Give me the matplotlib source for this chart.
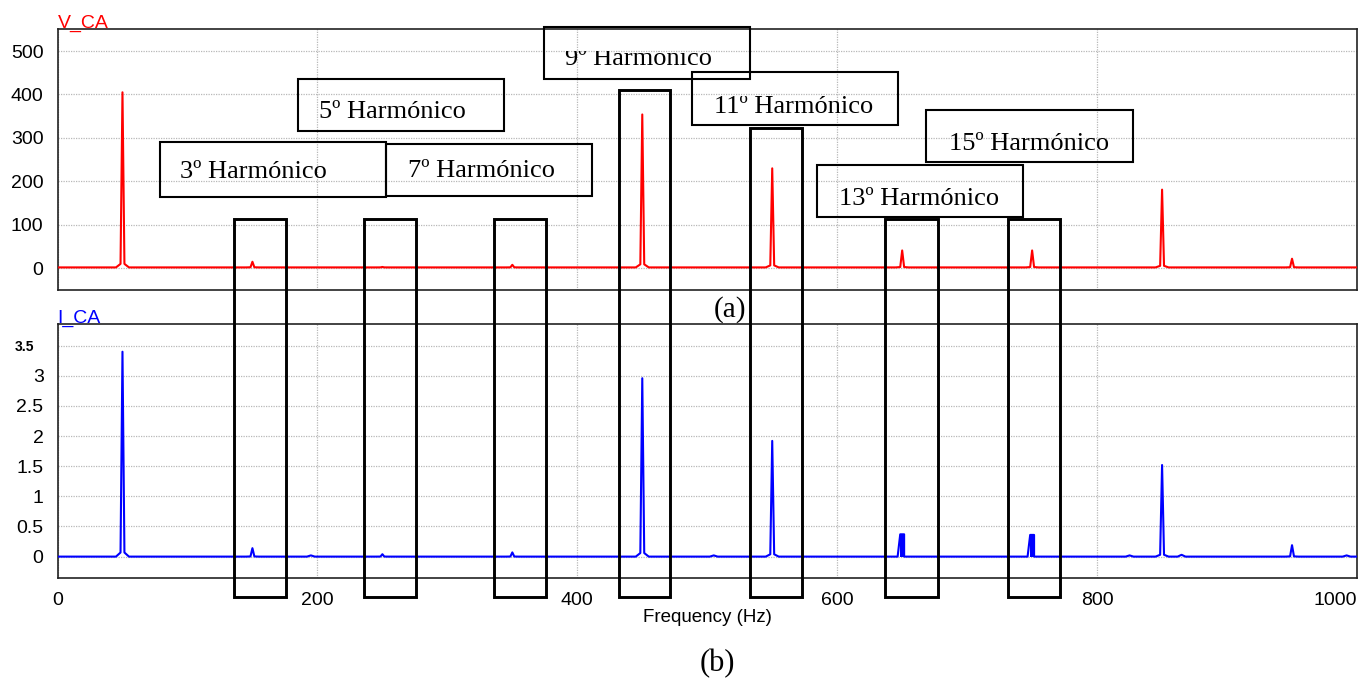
import matplotlib
matplotlib.use("Agg")
import matplotlib.pyplot as plt
from matplotlib.patches import Rectangle

# ---------------- data ----------------
harm_freq = [50, 150, 250, 350, 450, 550, 650, 750, 850, 950]          # Hz
v_amp     = [405, 15, 3, 8, 354, 230, 41, 41, 181, 22]                 # V_CA peaks
i_amp     = [3.40, 0.14, 0.04, 0.07, 2.96, 1.92, 0.37, 0.36, 1.52, 0.19]  # I_CA peaks
v_base = 2.0
i_base = 0.0
i_small_freq = [195, 505, 825, 865, 992]
i_small_amp  = [0.02, 0.02, 0.02, 0.03, 0.02]
block_harm = [650, 750]          # I_CA peaks that look like filled blocks

x_ticks = [0, 200, 400, 600, 800, 1000]
v_ticks = [0, 100, 200, 300, 400, 500]
i_ticks = [0, 0.5, 1, 1.5, 2, 2.5, 3, 3.5]
i_tick_labels = ["0", "0.5", "1", "1.5", "2", "2.5", "3", "3.5"]

harm_labels = ["3º Harmónico", "5º Harmónico", "7º Harmónico", "9º Harmónico",
               "11º Harmónico", "13º Harmónico", "15º Harmónico"]

# ---------------- helpers ----------------
def spectrum(freqs, amps, base, skirt, extra_f=(), extra_a=(), blocks=()):
    pts = [(0.0, base), (1000.0, base)]
    for f, a in zip(freqs, amps):
        if f in blocks:
            continue
        pts += [(f - 5, base), (f - 1.5, base + skirt * a), (f, a),
                (f + 1.5, base + skirt * a), (f + 5, base)]
    for f, a in zip(extra_f, extra_a):
        pts += [(f - 3, base), (f, base + a), (f + 3, base)]
    for f, a in zip(freqs, amps):
        if f in blocks:
            pts += [(f - 3.5, base), (f - 1.5, a), (f + 1.5, a), (f + 1.51, base), (f + 3.5, base)]
    pts.sort(key=lambda p: p[0])
    return [p[0] for p in pts], [p[1] for p in pts]

W, H = 1360, 678
fig = plt.figure(figsize=(W / 100, H / 100), dpi=100)
fig.patch.set_facecolor("white")

def axrect(x0, y0, x1, y1):
    return [x0 / W, 1 - y1 / H, (x1 - x0) / W, (y1 - y0) / H]

sans = "Liberation Sans"
serif = "Liberation Serif"
grid_kw = dict(color="#b8b8b8", linestyle=(0, (1, 1)), linewidth=0.9)

ax1 = fig.add_axes(axrect(57.5, 29.3, 1357, 290))
ax2 = fig.add_axes(axrect(57.5, 324, 1357, 577.7))

# top panel: V_CA
vx, vy = spectrum(harm_freq, v_amp, v_base, 0.02)
ax1.plot(vx, vy, color="#ff0000", lw=1.5, zorder=3)
ax1.set_xlim(0, 1000)
ax1.set_ylim(-50, 550)
ax1.set_xticks(x_ticks)
ax1.set_xticklabels([])
ax1.set_yticks(v_ticks)
ax1.set_yticklabels([str(t) for t in v_ticks], fontfamily=sans, fontsize=14)
ax1.text(0, 1.004, "V_CA", transform=ax1.transAxes, color="#ff0000",
         fontfamily=sans, fontsize=14, ha="left", va="baseline")

# bottom panel: I_CA
ix, iy = spectrum(harm_freq, i_amp, i_base, 0.02, i_small_freq, i_small_amp, block_harm)
ax2.plot(ix, iy, color="#0000ff", lw=1.5, zorder=3)
for f, a in zip(harm_freq, i_amp):
    if f in block_harm:
        ax2.fill_between([f - 1.5, f + 1.5], [i_base, i_base], [a, a],
                         color="#0000ff", lw=0, zorder=3)
ax2.set_xlim(0, 1000)
ax2.set_ylim(-0.35, 3.86)
ax2.set_xticks(x_ticks)
ax2.set_xticklabels([str(t) for t in x_ticks], fontfamily=sans, fontsize=14)
ax2.get_xticklabels()[-1].set_ha("right")
ax2.set_yticks(i_ticks)
ax2.set_yticklabels(i_tick_labels, fontfamily=sans, fontsize=14)
lab35 = ax2.get_yticklabels()[-1]
lab35.set_fontsize(10)
lab35.set_fontweight("bold")
lab35.set_x(-0.007)
ax2.text(0, 1.004, "I_CA", transform=ax2.transAxes, color="#0000ff",
         fontfamily=sans, fontsize=14, ha="left", va="baseline")
ax2.set_xlabel("Frequency (Hz)", fontfamily=sans, fontsize=13.5, labelpad=0)

for ax in (ax1, ax2):
    ax.grid(True, **grid_kw)
    ax.set_axisbelow(True)
    ax.tick_params(length=0, pad=10, colors="black")
    ax.tick_params(axis="x", pad=10)
    for s in ax.spines.values():
        s.set_linewidth(1.2)
        s.set_color("#222222")
    ax.set_facecolor("white")

# ---------------- overlay annotations (figure pixel coordinates) ----------------
ov = fig.add_axes([0, 0, 1, 1])
ov.set_xlim(0, W)
ov.set_ylim(H, 0)
ov.axis("off")
ov.patch.set_alpha(0)

# tall boxes around each harmonic: (x0, x1, top)
tall_boxes = [(234, 286, 218.5), (364, 416, 218.5), (493.5, 545.5, 218.5),
              (618.5, 670, 89.5), (750, 802, 127.5), (885, 937.5, 218.5),
              (1007.5, 1060, 218.5)]
tall_bottom = 596.5
for x0, x1, top in tall_boxes:
    ov.add_patch(Rectangle((x0, top), x1 - x0, tall_bottom - top, fill=False,
                           edgecolor="black", lw=2.1, zorder=5))

# label boxes: (x0, y0, x1, y1, text_x, baseline, clip_top)
label_boxes = [(160, 141.7, 386, 196.7, 180, 177.7, None),
               (298.3, 79, 504.3, 130.7, 319.3, 118.3, None),
               (386, 144.3, 591.7, 196.3, 407.7, 176.7, None),
               (544, 26.7, 750, 79, 565, 65, 51),
               (691.7, 72.3, 898.3, 125, 714.3, 113.3, 96),
               (816.7, 165, 1022.7, 216.7, 839, 205, None),
               (926.3, 110, 1133, 162, 949, 150, None)]
for (x0, y0, x1, y1, tx, ty, clip), lab in zip(label_boxes, harm_labels):
    ov.add_patch(Rectangle((x0, y0), x1 - x0, y1 - y0, fill=False,
                           edgecolor="black", lw=1.5, zorder=6))
    t = ov.text(tx, ty, lab, fontfamily=serif, fontsize=19, ha="left",
                va="baseline", color="black", zorder=7)
    if clip is not None:
        cr = Rectangle((x0, clip), x1 - x0, y1 - clip, transform=ov.transData)
        t.set_clip_path(cr)
        t.set_clip_on(True)

ov.text(730, 310, "(a)", fontfamily=serif, fontsize=21, ha="center", va="center", zorder=7)
ov.text(717, 664, "(b)", fontfamily=serif, fontsize=22, ha="center", va="center", zorder=7)

fig.savefig("out.png", dpi=100, facecolor="white")
